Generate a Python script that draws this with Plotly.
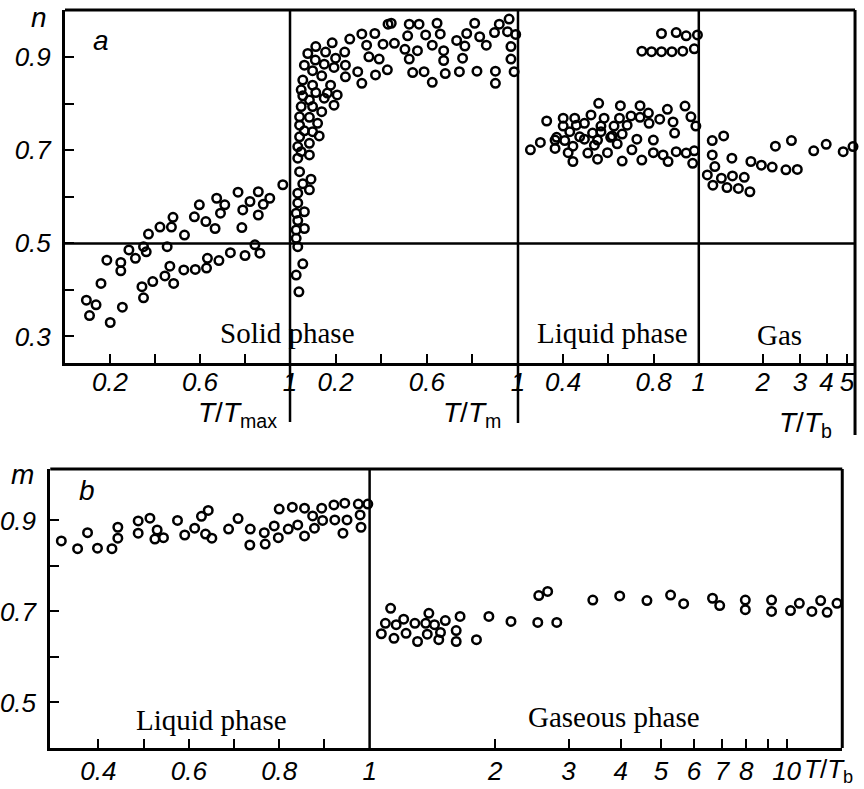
import math
import plotly.graph_objects as go

W, H = 864, 789

# ---------------- data ----------------
# Panel a, solid phase, x = T/Tmax
solid1_x = [0.968, 0.859, 0.769, 0.674, 0.822, 0.910, 0.881, 0.710, 0.597, 0.790, 0.691, 0.859, 0.575, 0.480,
            0.626, 0.473, 0.422, 0.667, 0.786, 0.531, 0.371, 0.349, 0.454, 0.284, 0.361, 0.313, 0.186, 0.248,
            0.248, 0.160, 0.095, 0.138, 0.109, 0.201, 0.255, 0.349, 0.342, 0.390, 0.444, 0.466, 0.483, 0.528,
            0.579, 0.629, 0.633, 0.684, 0.735, 0.800, 0.844, 0.866]
solid1_n = [0.626, 0.611, 0.610, 0.597, 0.590, 0.597, 0.584, 0.583, 0.583, 0.572, 0.565, 0.561, 0.557, 0.556,
            0.547, 0.535, 0.535, 0.532, 0.534, 0.518, 0.520, 0.493, 0.493, 0.486, 0.482, 0.468, 0.464, 0.459,
            0.441, 0.414, 0.378, 0.368, 0.345, 0.330, 0.363, 0.383, 0.407, 0.418, 0.430, 0.451, 0.414, 0.443,
            0.444, 0.447, 0.468, 0.463, 0.480, 0.474, 0.497, 0.479]

# Panel a, solid phase, x = T/Tm
solid2_x = [0.430, 0.315, 0.372, 0.262, 0.185, 0.336, 0.408, 0.113, 0.156, 0.078, 0.240, 0.200, 0.346, 0.111,
            0.391, 0.063, 0.150, 0.193, 0.243, 0.099, 0.297, 0.427, 0.375, 0.139, 0.243, 0.056, 0.178, 0.315,
            0.099, 0.049, 0.113, 0.164, 0.207, 0.056, 0.085, 0.150, 0.193, 0.049, 0.099, 0.139, 0.042, 0.085,
            0.121, 0.042, 0.063, 0.099, 0.128, 0.042, 0.085, 0.034, 0.049, 0.085, 0.034, 0.042, 0.092, 0.056,
            0.085, 0.034, 0.034, 0.063, 0.027, 0.034, 0.063, 0.027, 0.027, 0.034, 0.056, 0.027, 0.039,
            0.444, 0.523, 0.566, 0.645, 0.810, 0.918, 0.961, 0.659, 0.516, 0.595, 0.775, 0.832, 0.897, 0.954,
            0.990, 0.458, 0.624, 0.731, 0.767, 0.861, 0.969, 0.504, 0.559, 0.674, 0.523, 0.674, 0.757, 0.969,
            0.538, 0.588, 0.681, 0.743, 0.820, 0.901, 0.983, 0.624, 0.901]
solid2_n = [0.971, 0.950, 0.951, 0.939, 0.931, 0.926, 0.928, 0.923, 0.911, 0.908, 0.911, 0.898, 0.901, 0.894,
            0.896, 0.883, 0.885, 0.878, 0.883, 0.871, 0.869, 0.873, 0.862, 0.860, 0.858, 0.851, 0.840, 0.844,
            0.840, 0.830, 0.824, 0.823, 0.819, 0.817, 0.808, 0.812, 0.797, 0.794, 0.794, 0.783, 0.772, 0.771,
            0.758, 0.754, 0.742, 0.740, 0.731, 0.729, 0.715, 0.708, 0.697, 0.690, 0.683, 0.654, 0.638, 0.628,
            0.615, 0.608, 0.587, 0.568, 0.565, 0.549, 0.532, 0.529, 0.511, 0.493, 0.456, 0.432, 0.396,
            0.973, 0.971, 0.971, 0.973, 0.973, 0.971, 0.982, 0.950, 0.946, 0.948, 0.951, 0.944, 0.953, 0.955,
            0.949, 0.930, 0.926, 0.936, 0.924, 0.926, 0.923, 0.917, 0.914, 0.914, 0.896, 0.893, 0.898, 0.896,
            0.867, 0.869, 0.865, 0.869, 0.870, 0.870, 0.869, 0.846, 0.844]

# Panel a, liquid phase, x = T/Tb
liqA_x = [0.835, 0.900, 0.944, 0.994, 0.748, 0.791, 0.835, 0.881, 0.929, 0.980,
          0.557, 0.653, 0.740, 0.861, 0.939,
          0.327, 0.400, 0.451, 0.523, 0.581, 0.649, 0.700, 0.777, 0.827, 0.886, 0.965, 0.987,
          0.400, 0.458, 0.494, 0.567, 0.625, 0.683, 0.740, 0.780,
          0.371, 0.429, 0.473, 0.530, 0.567, 0.617, 0.661, 0.893,
          0.299, 0.364, 0.407, 0.494, 0.552, 0.610, 0.726, 0.799,
          0.255, 0.364, 0.443, 0.538, 0.639, 0.704, 0.799, 0.842, 0.900, 0.944, 0.980,
          0.422, 0.509, 0.596,
          0.443, 0.552, 0.661, 0.748, 0.864, 0.973]
liqA_n = [0.951, 0.953, 0.946, 0.948, 0.913, 0.912, 0.912, 0.912, 0.913, 0.918,
          0.801, 0.796, 0.796, 0.788, 0.795,
          0.763, 0.769, 0.769, 0.776, 0.769, 0.769, 0.774, 0.780, 0.767, 0.761, 0.772, 0.752,
          0.752, 0.754, 0.758, 0.752, 0.752, 0.754, 0.771, 0.758,
          0.728, 0.740, 0.729, 0.737, 0.740, 0.731, 0.735, 0.737,
          0.717, 0.722, 0.721, 0.724, 0.722, 0.728, 0.724, 0.722,
          0.701, 0.704, 0.709, 0.711, 0.714, 0.701, 0.695, 0.690, 0.697, 0.694, 0.699,
          0.695, 0.694, 0.695,
          0.676, 0.681, 0.677, 0.679, 0.676, 0.672]

# Panel a, gas, x = T/Tb (log)
gasA_x = [1.157, 1.310, 1.157, 1.432, 1.190, 1.097, 1.278, 1.441, 1.638, 1.165, 1.358, 1.537, 1.741,
          1.760, 1.972, 2.218, 2.574, 2.913, 2.296, 2.733, 3.481, 3.986, 4.793, 5.332]
gasA_n = [0.721, 0.731, 0.690, 0.683, 0.665, 0.647, 0.640, 0.645, 0.642, 0.625, 0.620, 0.618, 0.611,
          0.676, 0.668, 0.664, 0.658, 0.659, 0.709, 0.721, 0.699, 0.713, 0.697, 0.708]

# Panel b, liquid phase, x = T/Tb
liqB_x = [0.318, 0.354, 0.376, 0.398, 0.430, 0.443, 0.443, 0.488, 0.488, 0.514, 0.530, 0.525, 0.544, 0.575,
          0.591, 0.613, 0.628, 0.643, 0.637, 0.651, 0.688, 0.709, 0.736, 0.735, 0.767, 0.769, 0.789, 0.800,
          0.798, 0.820, 0.829, 0.841, 0.856, 0.856, 0.874, 0.878, 0.894, 0.896, 0.921, 0.923, 0.945, 0.950,
          0.941, 0.975, 0.979, 0.981, 0.996]
liqB_m = [0.855, 0.838, 0.873, 0.839, 0.838, 0.885, 0.861, 0.899, 0.872, 0.905, 0.879, 0.859, 0.862, 0.900,
          0.868, 0.883, 0.909, 0.922, 0.870, 0.861, 0.881, 0.904, 0.881, 0.846, 0.873, 0.848, 0.888, 0.925,
          0.862, 0.881, 0.929, 0.890, 0.927, 0.866, 0.910, 0.883, 0.927, 0.900, 0.934, 0.901, 0.938, 0.901,
          0.872, 0.936, 0.912, 0.885, 0.936]

# Panel b, gaseous phase, x = T/Tb (log)
gasB_x = [1.123, 1.091, 1.158, 1.207, 1.284, 1.363, 1.387, 1.431, 1.519, 1.648, 1.067, 1.144, 1.223, 1.303,
          1.375, 1.465, 1.479, 1.613, 1.613, 1.804, 1.932, 2.183, 2.531, 2.811, 2.545, 2.673, 3.430, 3.979,
          4.625, 5.270, 5.664, 6.643, 6.912, 7.962, 7.962, 9.204, 9.204, 10.22, 10.73, 11.50, 12.07, 12.51,
          13.21]
gasB_m = [0.707, 0.674, 0.671, 0.683, 0.674, 0.674, 0.696, 0.671, 0.680, 0.689, 0.651, 0.641, 0.652, 0.634,
          0.650, 0.638, 0.654, 0.658, 0.634, 0.638, 0.689, 0.678, 0.676, 0.676, 0.735, 0.744, 0.725, 0.734,
          0.724, 0.736, 0.717, 0.729, 0.713, 0.725, 0.704, 0.725, 0.700, 0.702, 0.718, 0.700, 0.724, 0.698,
          0.718]

# tick labels (major, labelled) and minor tick positions
yA_ticks = [0.3, 0.5, 0.7, 0.9]
yA_text = ["0.3", "0.5", "0.7", "0.9"]
yA_minor = [0.4, 0.6, 0.8]
yB_ticks = [0.5, 0.7, 0.9]
yB_text = ["0.5", "0.7", "0.9"]
yB_minor = [0.6, 0.8]
x1_ticks = [0.2, 0.6, 1.0]
x1_text = ["0.2", "0.6", "1"]
x1_minor = [0.4, 0.8]
x3_ticks = [0.4, 0.8]
x3_text = ["0.4", "0.8"]
x3_minor = [0.6]
x4_ticks = [1, 2, 3, 4, 5]
x4_text = ["1", "2", "3", "4", "5"]
x5_ticks = [0.4, 0.6, 0.8, 1.0]
x5_text = ["0.4", "0.6", "0.8", "1"]
x5_minor = [0.5, 0.7, 0.9]
x6_ticks = [2, 3, 4, 5, 6, 7, 8, 10]
x6_text = ["2", "3", "4", "5", "6", "7", "8", "10"]
x6_minor = [9]


def X(px):
    return px / W


def Y(py):
    return 1 - py / H


def ital(labels):
    return ["<i>%s</i>" % t for t in labels]


fig = go.Figure()
mk = dict(symbol="circle-open", size=8.5, color="black", line=dict(width=2.5, color="black"))
for xs, ys, xa, ya in [(solid1_x, solid1_n, "x", "y"), (solid2_x, solid2_n, "x2", "y"),
                       (liqA_x, liqA_n, "x3", "y"), (gasA_x, gasA_n, "x4", "y"),
                       (liqB_x, liqB_m, "x5", "y2"), (gasB_x, gasB_m, "x6", "y2")]:
    fig.add_trace(go.Scatter(x=xs, y=ys, mode="markers", marker=mk, xaxis=xa, yaxis=ya,
                             cliponaxis=False, hoverinfo="skip"))

tickfont = dict(family="Liberation Sans, Arial, sans-serif", size=26, color="black")
common = dict(showgrid=False, zeroline=False, showline=True, linecolor="black", linewidth=3,
              ticks="inside", ticklen=9, tickwidth=2, tickcolor="black", tickfont=tickfont,
              fixedrange=True, tickangle=0)
xa_c = dict(common, ticklabelstandoff=-6)
xb_c = dict(common, ticklabelstandoff=-2)
yc = dict(common, ticklabelstandoff=6)


def minor(vals):
    return dict(tickmode="array", tickvals=vals, ticks="inside", ticklen=9, tickwidth=2,
                tickcolor="black", showgrid=False)


fig.update_layout(
    width=W, height=H, margin=dict(l=0, r=0, t=0, b=0),
    paper_bgcolor="white", plot_bgcolor="white", showlegend=False,
    xaxis=dict(domain=[X(58), X(287)], range=[0, 1], anchor="y", tickvals=x1_ticks, ticktext=ital(x1_text),
               minor=minor(x1_minor), **xa_c),
    xaxis2=dict(domain=[X(287), X(519)], range=[0, 1], anchor="y", tickvals=x1_ticks, ticktext=ital(x1_text),
                minor=minor(x1_minor), **xa_c),
    xaxis3=dict(domain=[X(519), X(703)], range=[0.2, 1.0], anchor="y", tickvals=x3_ticks, ticktext=ital(x3_text),
                minor=minor(x3_minor), **xa_c),
    xaxis4=dict(type="log", domain=[X(703), X(862)], range=[0, math.log10(5.45)], anchor="y",
                tickvals=x4_ticks, ticktext=ital(x4_text), **xa_c),
    yaxis=dict(domain=[Y(363), Y(10)], range=[0.243, 1.0015], anchor="x", tickvals=yA_ticks, ticktext=ital(yA_text),
               minor=minor(yA_minor), **yc),
    xaxis5=dict(domain=[X(43), X(368)], range=[0.2935, 1.0], anchor="y2", tickvals=x5_ticks, ticktext=ital(x5_text),
                minor=minor(x5_minor), **xb_c),
    xaxis6=dict(type="log", domain=[X(368), X(849)], range=[0, math.log10(13.6)], anchor="y2",
                tickvals=x6_ticks, ticktext=ital(x6_text), minor=minor(x6_minor), **xb_c),
    yaxis2=dict(domain=[Y(748), Y(469)], range=[0.40, 1.013], anchor="x5", tickvals=yB_ticks, ticktext=ital(yB_text),
                minor=minor(yB_minor), **yc),
)

shapes = []
for x0, y0, x1, y1, w in [(58, 10, 862, 10, 3), (862, 10, 862, 435, 3), (287, 10, 287, 422, 2.5),
                          (519, 10, 519, 423, 2.5), (703, 10, 703, 363, 2.5),
                          (43, 469, 849, 469, 3), (849, 469, 849, 748, 3), (368, 469, 368, 748, 2.5)]:
    shapes.append(dict(type="line", xref="paper", yref="paper", x0=X(x0), x1=X(x1), y0=Y(y0), y1=Y(y1),
                       line=dict(color="black", width=w)))
shapes.append(dict(type="line", xref="paper", yref="y", x0=X(58), x1=X(862), y0=0.5, y1=0.5,
                   line=dict(color="black", width=2.5)))
fig.update_layout(shapes=shapes)

serif = dict(family="Liberation Serif, Times New Roman, serif", size=29, color="black")
sans_i = dict(family="Liberation Sans, Arial, sans-serif", size=28, color="black")
sans_s = dict(family="Liberation Sans, Arial, sans-serif", size=26, color="black")
ann = []
for txt, px, py, f in [("Solid phase", 284, 333, serif), ("Liquid phase", 615, 333, serif), ("Gas", 785, 335, serif),
                       ("Liquid phase", 207, 720, serif), ("Gaseous phase", 617, 717, serif),
                       ("<i>n</i>", 32, 17, sans_i), ("<i>a</i>", 95, 40, sans_i),
                       ("<i>m</i>", 15, 474, sans_i), ("<i>b</i>", 80, 490, sans_i),
                       ("<i>T</i>/<i>T</i><sub>max</sub>", 234, 414, sans_i),
                       ("<i>T</i>/<i>T</i><sub>m</sub>", 472, 414, sans_i),
                       ("<i>T</i>/<i>T</i><sub>b</sub>", 812, 424, sans_i),
                       ("<i>T</i>/<i>T</i><sub>b</sub>", 835, 770, sans_s)]:
    ann.append(dict(text=txt, x=X(px), y=Y(py), xref="paper", yref="paper", showarrow=False,
                    xanchor="center", yanchor="middle", font=f))
fig.update_layout(annotations=ann)

fig.write_html("out.html", config={"displayModeBar": False},
               post_script="document.body.style.margin='0';document.body.style.overflow='hidden';")
